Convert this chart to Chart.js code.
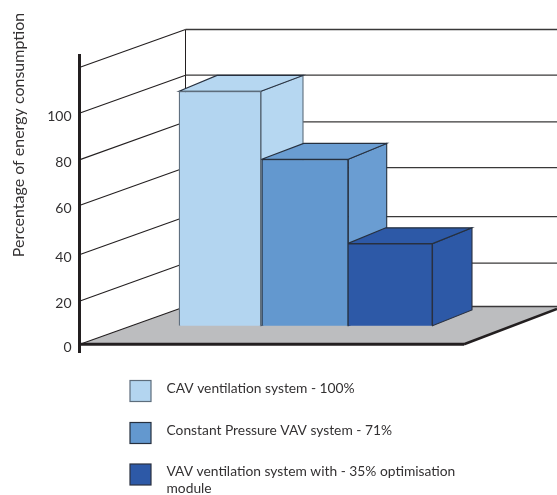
<!DOCTYPE html>
<html>
<head>
<meta charset="utf-8">
<style>
  html, body { margin: 0; padding: 0; background: #fff; }
  canvas { display: block; }
</style>
<script src="https://cdn.jsdelivr.net/npm/chart.js@4"></script>
</head>
<body>
<canvas id="chart" width="557" height="495"></canvas>
<script>
// Energy use of three ventilation systems, drawn as a pseudo-3D bar chart.
const seriesLabels = [
  ['CAV ventilation system - 100%'],
  ['Constant Pressure VAV system - 71%'],
  ['VAV ventilation system with - 35% optimisation', 'module']
];
const seriesValues = [100, 71, 35];
const seriesSlots = [0, 1, 2];
const yTickLabels = ['0', '20', '40', '60', '80', '100', ''];
const yAxisTitle = 'Percentage of energy consumption';
// Wall line heights, which sit slightly unevenly on the axis.
const wallLevels = [0, 18.8, 38.9, 60.2, 80, 100.2, 120];

const frontColors = ['#b3d5f0', '#6398cf', '#2d59a7'];
const sideColors = ['#b6d7f1', '#6a9dd2', '#2d59a7'];
const edgeColors = ['#5d6d7c', '#26303f', '#2a3140'];
const barWidths = [82, 86.6, 85];
const backLeftShift = [38, 42, 38.4];
const backRightShift = [42, 38.4, 39.5];
const INK = '#231f20';
const TEXT = '#333132';
const FLOOR = '#bcbdbf';
const FONT = 'Lato, sans-serif';

// Plot frame in canvas pixels.
const AREA = { left: 79.5, right: 464, top: 55, bottom: 352 };
const WALL = { dx: 105.5, dy: -37.8 };
const BAR_DEPTH_Y = -15.8;

// Axis scale: the printed 0-120 ruler.
const Y_ZERO = 344.3, Y_UNIT = 2.3083;
// Bars stand further back on the floor, so they get their own baseline.
const BAR_ZERO = 325.7, BAR_UNIT = 2.345;
// Horizontal slots for the bars.
const SLOT_START = 220, SLOT_UNIT = 85;

const scaleRange = (zero, unit) => ({
  min: -(AREA.bottom - zero) / unit,
  max: (zero - AREA.top) / unit
});

function line(ctx, pts, color, width) {
  ctx.beginPath();
  pts.forEach((p, i) => (i ? ctx.lineTo(p[0], p[1]) : ctx.moveTo(p[0], p[1])));
  ctx.strokeStyle = color;
  ctx.lineWidth = width;
  ctx.stroke();
}

function face(ctx, pts, fill, edge) {
  ctx.beginPath();
  pts.forEach((p, i) => (i ? ctx.lineTo(p[0], p[1]) : ctx.moveTo(p[0], p[1])));
  ctx.closePath();
  ctx.fillStyle = fill;
  ctx.fill();
  ctx.strokeStyle = edge;
  ctx.lineWidth = 1.1;
  ctx.lineJoin = 'miter';
  ctx.stroke();
}

// Walls, floor and the side and top faces of each bar, behind the front faces.
const roomPlugin = {
  id: 'room',
  beforeDatasetsDraw(chart) {
    const { ctx, width } = chart;
    const y = chart.scales.y;
    const x0 = AREA.left + 0.5;
    const backX = x0 + WALL.dx;
    ctx.save();
    ctx.lineCap = 'butt';

    const floorFront = y.getPixelForValue(0);
    const floorBack = floorFront + WALL.dy;

    ctx.beginPath();
    ctx.moveTo(x0, floorFront);
    ctx.lineTo(backX, floorBack);
    ctx.lineTo(width, floorBack);
    ctx.lineTo(width, floorBack + 2.4);
    ctx.lineTo(AREA.right, floorFront);
    ctx.closePath();
    ctx.fillStyle = FLOOR;
    ctx.fill();

    const top = y.getPixelForValue(wallLevels[wallLevels.length - 1]) + WALL.dy;
    line(ctx, [[backX, top], [backX, floorBack]], INK, 1);

    wallLevels.forEach((level) => {
      const py = y.getPixelForValue(level);
      line(ctx, [[x0, py], [backX, py + WALL.dy]], INK, 1.1);
      line(ctx, [[backX, py + WALL.dy], [width, py + WALL.dy]], '#3a3839', 1.3);
    });

    line(ctx, [[AREA.right, floorFront], [width, floorBack + 2.4]], INK, 2.6);

    chart.data.datasets.forEach((ds, i) => {
      const el = chart.getDatasetMeta(i).data[0];
      const left = el.x - el.width / 2;
      const right = el.x + el.width / 2;
      const yTop = el.y;
      const yBase = el.base;
      const backRight = right + backRightShift[i];
      const backLeft = left + backLeftShift[i];
      const yBack = yTop + BAR_DEPTH_Y;
      face(ctx, [[right, yTop], [backRight, yBack], [backRight, yBase + BAR_DEPTH_Y], [right, yBase]], sideColors[i], edgeColors[i]);
      face(ctx, [[left, yTop], [backLeft, yBack], [backRight, yBack], [right, yTop]], sideColors[i], edgeColors[1]);
    });
    ctx.restore();
  },
  afterDatasetsDraw(chart) {
    const { ctx } = chart;
    const py = chart.scales.y.getPixelForValue(0);
    ctx.save();
    line(ctx, [[AREA.left, py], [AREA.right, py]], INK, 3);
    ctx.restore();
  }
};

// Vertical key under the plot, plus the rotated axis title that runs above the plot top.
const keyPlugin = {
  id: 'key',
  afterDraw(chart) {
    const { ctx } = chart;
    const rows = [380.5, 422.5, 464];
    ctx.save();
    ctx.fillStyle = TEXT;
    ctx.font = '16px ' + FONT;
    ctx.textAlign = 'center';
    ctx.textBaseline = 'middle';
    ctx.translate(19, 135);
    ctx.rotate(-Math.PI / 2);
    ctx.fillText(yAxisTitle, 0, 0);
    ctx.restore();

    ctx.save();
    chart.data.datasets.forEach((ds, i) => {
      ctx.fillStyle = frontColors[i];
      ctx.fillRect(130, rows[i], 21, 21);
      ctx.strokeStyle = edgeColors[i];
      ctx.lineWidth = 1.2;
      ctx.strokeRect(130, rows[i], 21, 21);
      ctx.fillStyle = TEXT;
      ctx.font = '13.8px ' + FONT;
      ctx.textBaseline = 'middle';
      ds.label.forEach((text, n) => ctx.fillText(text, 166.5, rows[i] + 8 + n * 17));
    });
    ctx.restore();
  }
};

const datasets = seriesLabels.map((label, i) => ({
  label,
  data: [{ x: seriesSlots[i], y: seriesValues[i] }],
  backgroundColor: frontColors[i],
  borderColor: edgeColors[i],
  borderWidth: 1.3,
  barThickness: barWidths[i],
  grouped: false,
  yAxisID: 'yBar',
  xAxisID: 'x'
}));

new Chart(document.getElementById('chart'), {
  type: 'bar',
  data: { datasets },
  plugins: [roomPlugin, keyPlugin],
  options: {
    responsive: false,
    animation: false,
    devicePixelRatio: 1,
    layout: {
      padding: { top: AREA.top, bottom: 495 - AREA.bottom, left: 0, right: 557 - AREA.right }
    },
    plugins: { legend: { display: false }, tooltip: { enabled: false } },
    scales: {
      x: {
        type: 'linear',
        display: false,
        offset: false,
        min: (AREA.left - SLOT_START) / SLOT_UNIT,
        max: (AREA.right - SLOT_START) / SLOT_UNIT
      },
      yBar: {
        type: 'linear',
        display: false,
        ...scaleRange(BAR_ZERO, BAR_UNIT)
      },
      y: {
        type: 'linear',
        position: 'left',
        ...scaleRange(Y_ZERO, Y_UNIT),
        afterBuildTicks(scale) { scale.ticks = wallLevels.map((value) => ({ value })); },
        afterFit(scale) { scale.width = AREA.left; },
        grid: { display: false, drawTicks: false },
        border: { display: true, color: INK, width: 3 },
        ticks: {
          autoSkip: false,
          padding: 8,
          labelOffset: 3,
          color: TEXT,
          font: { family: FONT, size: 14 },
          callback: (value, index) => yTickLabels[index]
        }
      }
    }
  }
});
</script>
</body>
</html>
